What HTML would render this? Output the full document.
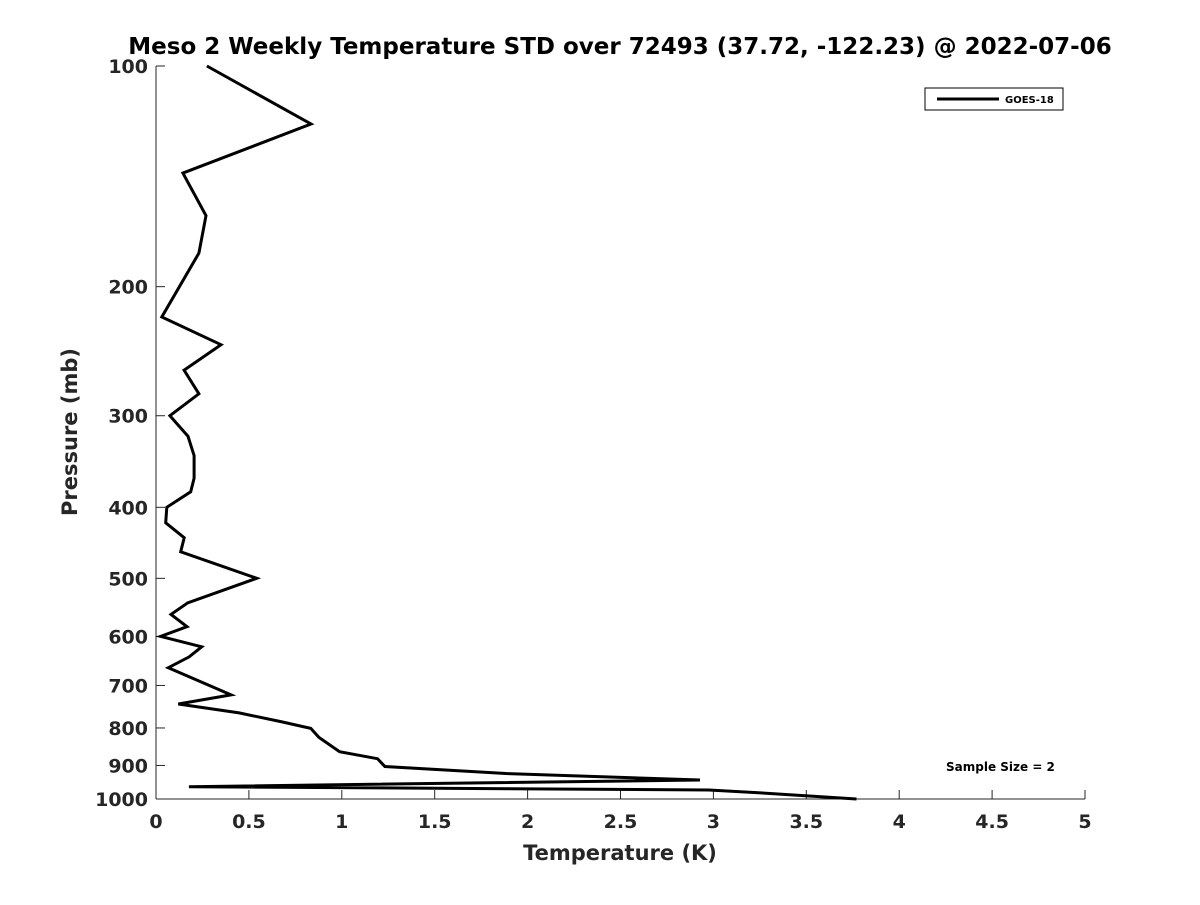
<!DOCTYPE html>
<html><head><meta charset="utf-8"><style>
body{margin:0;background:#fff;}
svg text{font-family:"DejaVu Sans","Liberation Sans",sans-serif;font-weight:bold;fill:#262626;}
</style></head><body>
<svg id="chart" width="1200" height="900" xmlns="http://www.w3.org/2000/svg">
<rect width="1200" height="900" fill="#fff"/>
<text x="620" y="54" font-size="23" text-anchor="middle" style="fill:#000">Meso 2 Weekly Temperature STD over 72493 (37.72, -122.23) @ 2022-07-06</text>
<g id="axes"></g>
<g id="series"></g>
<text x="620" y="860" font-size="21" text-anchor="middle">Temperature (K)</text>
<text transform="translate(77,432) rotate(-90)" font-size="21" text-anchor="middle">Pressure (mb)</text>
<g>
<rect x="925" y="88" width="138" height="22" fill="#fff" stroke="#000" stroke-width="1"/>
<line x1="937" y1="99" x2="999" y2="99" stroke="#000" stroke-width="3"/>
<text x="1005" y="103" font-size="10" style="fill:#000">GOES-18</text>
</g>
<text x="946" y="771" font-size="12" style="fill:#000">Sample Size = 2</text>
</svg>
<script>
const temps=[0.274,0.834,0.145,0.269,0.231,0.031,0.350,0.151,0.231,0.075,0.172,0.205,0.205,0.187,0.058,0.052,0.152,0.133,0.542,0.171,0.081,0.167,0.025,0.246,0.178,0.066,0.404,0.120,0.447,0.678,0.833,0.877,0.988,1.192,1.232,1.884,2.928,0.177,2.976,3.283,3.77];
const pressures=[100,120,140,160,180,220,240,260,280,300,320,340,365,381,400,420,440,460,500,540,560,582,600,620,640,662,721,742,763,785,801,824,862,881,903,923,942,962,972,982,1000];
const xTicks=[0,0.5,1,1.5,2,2.5,3,3.5,4,4.5,5];
const xTickLabels=["0","0.5","1","1.5","2","2.5","3","3.5","4","4.5","5"];
const yTicks=[100,200,300,400,500,600,700,800,900,1000];
const yTickLabels=["100","200","300","400","500","600","700","800","900","1000"];
const X0=156,X1=1085,Y0=66,Y1=799;
const xs=v=>X0+(v-0)/(5-0)*(X1-X0);
const ys=p=>Y0+(Math.log10(p)-2)*(Y1-Y0);
const NS="http://www.w3.org/2000/svg";
const axes=document.getElementById('axes');
function mk(t,a,parent){const e=document.createElementNS(NS,t);for(const k in a)e.setAttribute(k,a[k]);parent.appendChild(e);return e;}
const ya=mk('line',{x1:X0,y1:Y0,x2:X0,y2:Y1,stroke:'#262626','stroke-width':1},axes);


const xa=mk('line',{x1:X0,y1:Y1,x2:X1,y2:Y1,stroke:'#262626','stroke-width':1},axes);


xTicks.forEach((v,i)=>{
 const tk=mk('line',{x1:xs(v),y1:Y1,x2:xs(v),y2:Y1-9,stroke:'#262626'},axes);
 
 
 const t=mk('text',{x:xs(v),y:Y1+29,'font-size':19,'text-anchor':'middle'},axes);
 t.textContent=xTickLabels[i];
 
 
});
yTicks.forEach((p,i)=>{
 const tk=mk('line',{x1:X0,y1:ys(p),x2:X0+9,y2:ys(p),stroke:'#262626'},axes);
 
 
 const t=mk('text',{x:X0-8,y:ys(p)+7,'font-size':19,'text-anchor':'end'},axes);
 t.textContent=yTickLabels[i];
 
 
});
const pts=temps.map((t,i)=>xs(t).toFixed(1)+','+ys(pressures[i]).toFixed(1)).join(' ');
const line=mk('polyline',{points:pts,fill:'none',stroke:'#000','stroke-width':3,'stroke-linejoin':'miter'},document.getElementById('series'));


</script>
</body></html>
